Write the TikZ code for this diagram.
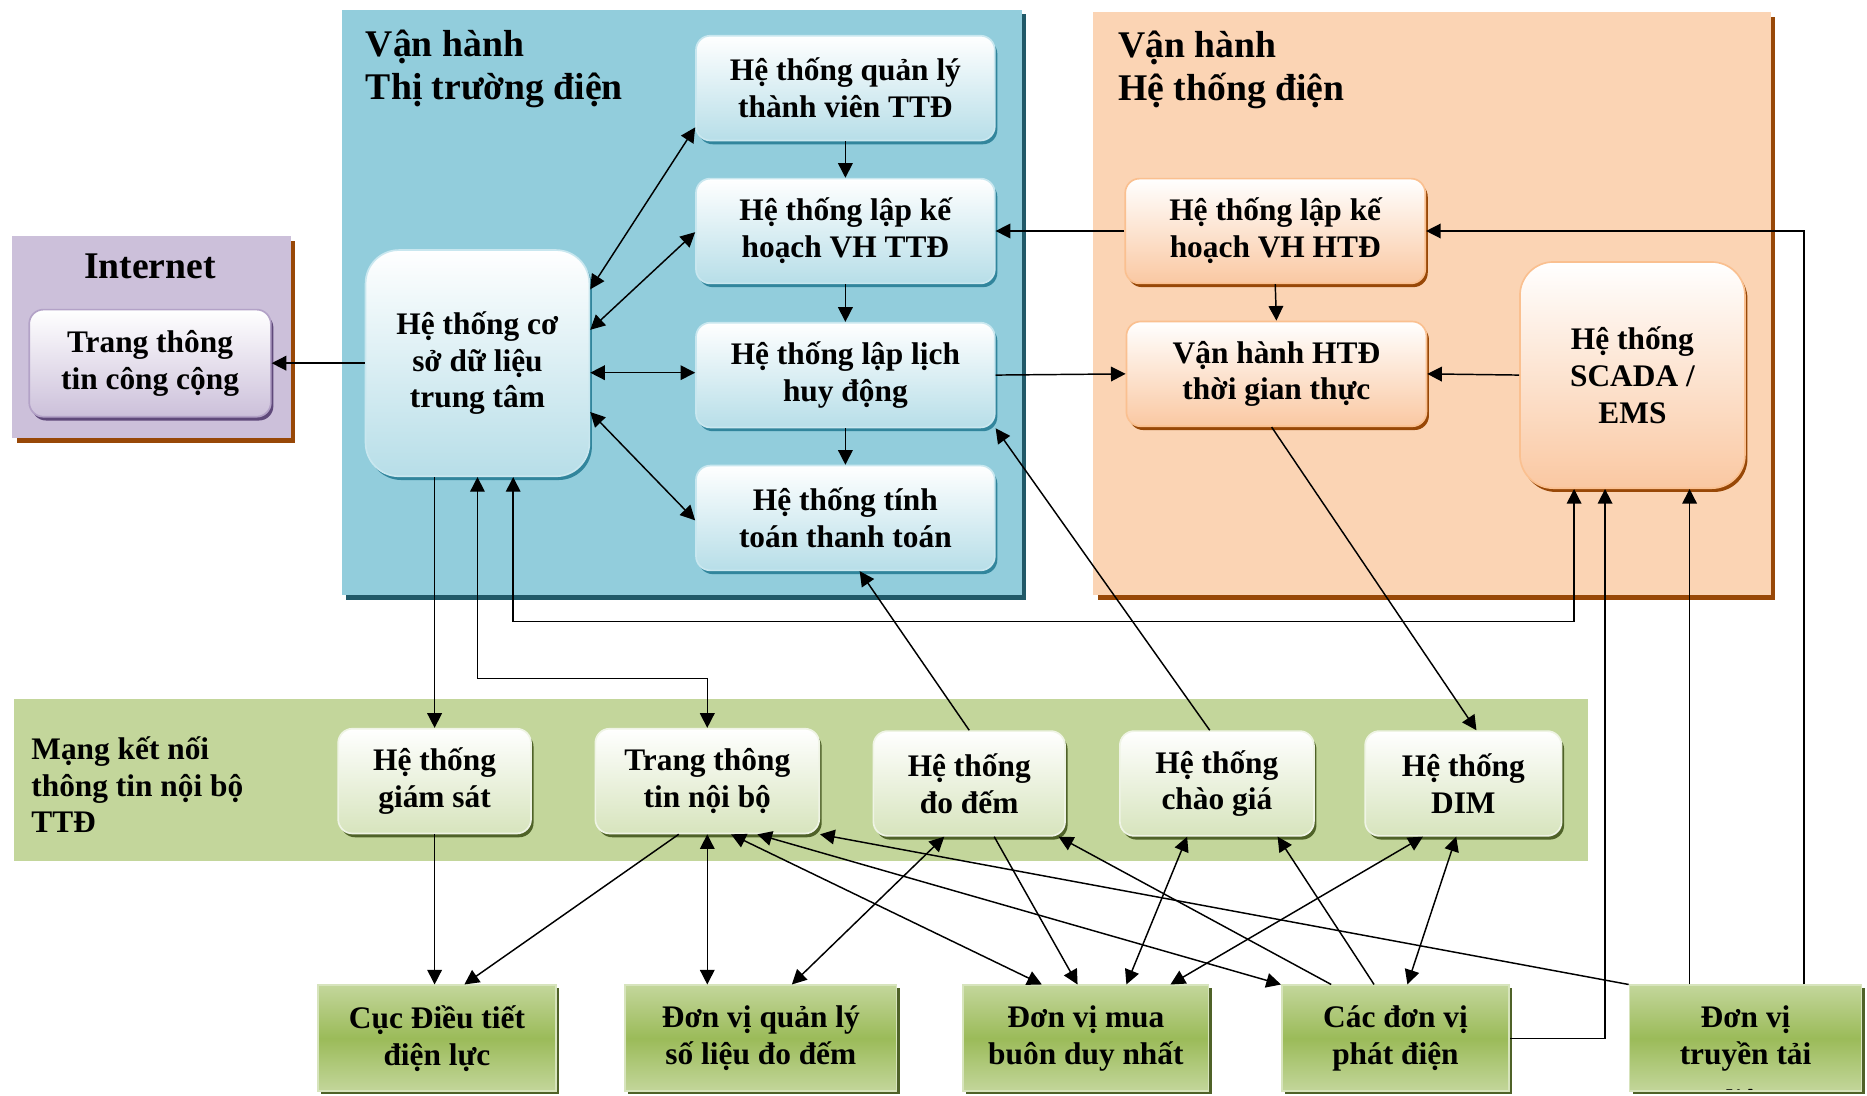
\documentclass[tikz,border=0pt]{standalone}
\usepackage{fontspec}
\setmainfont{Liberation Serif}
\usetikzlibrary{arrows.meta,shadows}
\definecolor{bluepanel}{HTML}{92CDDC}
\definecolor{bluedark}{HTML}{215968}
\definecolor{bluebot}{HTML}{B7DEE8}
\definecolor{blueline}{HTML}{C9E7EF}
\definecolor{blueshade}{HTML}{31859C}
\definecolor{orangepanel}{HTML}{FBD4B4}
\definecolor{orangedark}{HTML}{984807}
\definecolor{orangebot}{HTML}{FAC8A2}
\definecolor{orangeline}{HTML}{FAC090}
\definecolor{lilac}{HTML}{CCC0DA}
\definecolor{lilacline}{HTML}{B3A2C7}
\definecolor{lilacshade}{HTML}{5F497A}
\definecolor{bandgreen}{HTML}{C3D69B}
\definecolor{greenbot}{HTML}{D7E4BD}
\definecolor{greenmid}{HTML}{9BBB59}
\definecolor{greenshade}{HTML}{4F6228}
\begin{document}
\begin{tikzpicture}[x=0.02cm,y=-0.02cm,>={Triangle[length=7pt,width=7pt]},
  font=\bfseries\fontsize{15}{17.6}\selectfont,
  box/.style={align=center,inner sep=2pt,line width=0.8pt},
  bnode/.style={box,rounded corners=0.24cm,minimum width=5.02cm,minimum height=1.76cm,top color=white,bottom color=bluebot,draw=blueline,
    drop shadow={fill=blueshade,opacity=1,shadow xshift=1.2pt,shadow yshift=-1.8pt}},
  onode/.style={box,rounded corners=0.24cm,minimum width=5.04cm,minimum height=1.76cm,top color=white,bottom color=orangebot,draw=orangeline,
    drop shadow={fill=orangedark,opacity=1,shadow xshift=1.2pt,shadow yshift=-1.8pt}},
  inode/.style={box,rounded corners=0.24cm,minimum width=4.06cm,minimum height=1.8cm,top color=white,bottom color=lilac,draw=lilacline,
    drop shadow={fill=lilacshade,opacity=1,shadow xshift=1.2pt,shadow yshift=-1.8pt}},
  gnode/.style={box,rounded corners=0.24cm,minimum height=1.76cm,top color=white,bottom color=greenbot,draw=white!60!greenbot,
    drop shadow={fill=greenshade,opacity=1,shadow xshift=1.2pt,shadow yshift=-1.8pt}},
  gbox/.style={box,minimum height=1.78cm,top color=bandgreen,bottom color=bandgreen,middle color=greenmid,draw=greenbot,
    drop shadow={fill=greenshade,opacity=1,shadow xshift=1.5pt,shadow yshift=-1.5pt}},
  title/.style={font=\bfseries\fontsize{18}{20.5}\selectfont,align=left,inner sep=0pt},
  link/.style={line width=0.7pt}]
\useasboundingbox (0,0) rectangle (1568,920);
% khung
\fill[bluedark] (291,12) rectangle (862,504);
\fill[bluepanel] (287,8) rectangle (858,500);
\fill[orangedark] (922,14) rectangle (1491,504);
\fill[orangepanel] (918,10) rectangle (1487,500);
\fill[orangedark] (14,202) rectangle (248,372);
\fill[lilac] (10,198) rectangle (244,368);
\fill[bandgreen] (12,587) rectangle (1334,723);
\node[title,anchor=west] at (307,58) {Vận hành\\Thị trường điện};
\node[title,anchor=west] at (939,59) {Vận hành\\Hệ thống điện};
\node[title] at (126,224) {Internet};
\node[align=left,inner sep=0pt,anchor=west] at (26,659) {Mạng kết nối\\thông tin nội bộ\\TTĐ};
% thi truong dien
\node[bnode] (quanly) at (710,74) {Hệ thống quản lý\\thành viên TTĐ};
\node[bnode] (lapttd) at (710,194) {Hệ thống lập kế\\hoạch VH TTĐ};
\node[bnode] (laplich) at (710,315) {Hệ thống lập lịch\\huy động};
\node[bnode] (tinhtoan) at (710,435) {Hệ thống tính\\toán thanh toán};
\node[bnode,minimum width=3.76cm,minimum height=3.8cm,rounded corners=0.56cm] (csdl) at (401,305) {Hệ thống cơ\\sở dữ liệu\\trung tâm};
\node[inode] (congcong) at (126,305) {Trang thông\\tin công cộng};
% he thong dien
\node[onode] (laphtd) at (1071,194) {Hệ thống lập kế\\hoạch VH HTĐ};
\node[onode] (vhhtd) at (1072,314) {Vận hành HTĐ\\thời gian thực};
\node[onode,minimum width=3.78cm,minimum height=3.8cm,rounded corners=0.56cm] (scada) at (1371,315) {Hệ thống\\SCADA /\\EMS};
% mang noi bo
\node[gnode,minimum width=3.24cm] (giamsat) at (365,656) {Hệ thống\\giám sát};
\node[gnode,minimum width=3.76cm] (noibo) at (594,656) {Trang thông\\tin nội bộ};
\node[gnode,minimum width=3.22cm] (dodem) at (814,658) {Hệ thống\\đo đếm};
\node[gnode,minimum width=3.26cm] (chaogia) at (1022,658) {Hệ thống\\chào giá};
\node[gnode,minimum width=3.3cm] (dim) at (1229,658) {Hệ thống\\DIM};
% don vi
\node[gbox,minimum width=4cm] (cuc) at (367,872) {Cục Điều tiết\\điện lực};
\node[gbox,minimum width=4.56cm] (dvql) at (639,872) {Đơn vị quản lý\\số liệu đo đếm};
\node[gbox,minimum width=4.12cm] (dvmua) at (912,872) {Đơn vị mua\\buôn duy nhất};
\node[gbox,minimum width=3.82cm] (cacdv) at (1172,872) {Các đơn vị\\phát điện};
\node[gbox,minimum width=3.9cm,path picture={\node at ([yshift=-31pt]path picture bounding box.center) {điện};}] (truyentai) at (1466,872) {Đơn vị\\truyền tải};
% lien ket
\draw[link,->] (csdl.west) -- (congcong.east);
\draw[link,<->] (csdl.east |- 0,243) -- (quanly.west |- 0,107);
\draw[link,<->] (csdl.east |- 0,277) -- (lapttd.west |- 0,195);
\draw[link,<->] (csdl.east |- 0,313) -- (laplich.west |- 0,313);
\draw[link,<->] (csdl.east |- 0,346) -- (tinhtoan.west |- 0,437);
\foreach \a/\b in {quanly/lapttd,lapttd/laplich,laplich/tinhtoan,laphtd/vhhtd}
  \draw[link,->] (\a.south) -- (\b.north);
\draw[link,->] (laphtd.west) -- (lapttd.east);
\draw[link,->] (laplich.east) -- (vhhtd.west);
\draw[link,->] (scada.west) -- (vhhtd.east);
\draw[link,->] (truyentai.north -| 1515,0) |- (laphtd.east);
\draw[link,->] (csdl.south -| giamsat.north) -- (giamsat.north);
\draw[link,<->] (csdl.south) -- (csdl.south |- 0,570) -| (noibo.north);
\draw[link,<->] (csdl.south -| 431,0) -- (431,522) -| (scada.south -| 1322,0);
\draw[link,->] (cacdv.east) -| (scada.south -| 1348,0);
\draw[link,->] (truyentai.north -| 1419,0) -- (scada.south -| 1419,0);
\draw[link,->] (dodem.north) -- (tinhtoan.south -| 722,0);
\draw[link,->] (chaogia.north -| 1016,0) -- (laplich.south east);
\draw[link,->] (vhhtd.south -| 1068,0) -- (dim.north -| 1240,0);
\draw[link,->] (giamsat.south) -- (cuc.north -| giamsat.south);
\draw[link,->] (noibo.south -| 570,0) -- (cuc.north -| 390,0);
\draw[link,<->] (noibo.south) -- (dvql.north -| noibo.south);
\draw[link,<->] (dodem.south -| 793,0) -- (dvql.north -| 665,0);
\draw[link,<->] (noibo.south -| 614,0) -- (dvmua.north -| 875,0);
\draw[link,->] (dodem.south -| 835,0) -- (dvmua.north -| 905,0);
\draw[link,<->] (chaogia.south -| 997,0) -- (dvmua.north -| 946,0);
\draw[link,<->] (dim.south -| 1195,0) -- (dvmua.north -| 983,0);
\draw[link,<->] (noibo.south -| 636,0) -- (cacdv.north west);
\draw[link,->] (truyentai.north west) -- (noibo.south east);
\draw[link,->] (cacdv.north -| 1118,0) -- (dodem.south -| 889,0);
\draw[link,->] (cacdv.north -| 1154,0) -- (chaogia.south -| 1073,0);
\draw[link,<->] (dim.south -| 1223,0) -- (cacdv.north -| 1182,0);
\end{tikzpicture}
\end{document}
